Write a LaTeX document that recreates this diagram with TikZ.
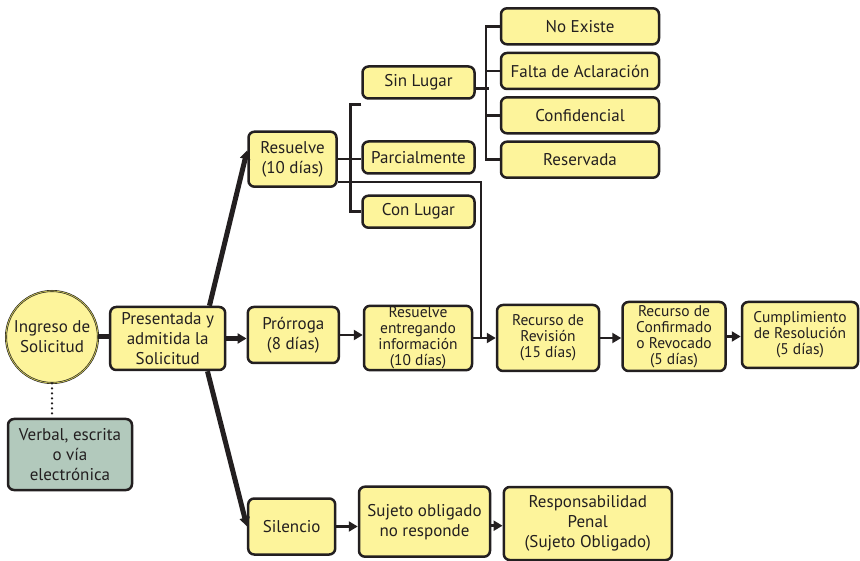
\documentclass[tikz,border=0pt]{standalone}
\usepackage{fontspec}
\setmainfont{PT Sans}
\usetikzlibrary{arrows.meta,positioning,shapes}
\definecolor{boxyellow}{RGB}{253,244,155}
\definecolor{boxgreen}{RGB}{178,201,188}
\definecolor{ink}{RGB}{35,31,32}

\begin{document}
\begin{tikzpicture}[x = 1pt, y = -1pt,
  box/.style = {draw = ink, fill = boxyellow, line width = 2.5pt, rounded corners = 6pt, align = center, inner sep = 1pt, text = ink, font = \fontsize{17}{20}\selectfont},
  tight/.style = {font = \fontsize{15.5}{16}\selectfont},
  link/.style = {draw = ink, line width = 2.5pt},
  fat/.style = {draw = ink, line width = 5pt},
  tip/.style = {-{Triangle[length=9pt, width=10pt]}}]
\useasboundingbox (0,0) rectangle (860,561);

% start of the request
\node[circle, draw = ink, double = boxyellow!55!olive, double distance = 0.8pt, line width = 0.6pt, fill = boxyellow, minimum size = 92, inner sep = 0pt, align = center, text = ink, font = \fontsize{17}{20}\selectfont] (ing) at (52,337) {Ingreso de\\Solicitud};
\node[box, fill = boxgreen, minimum width = 124, minimum height = 71] (verb) at (70,454.5) {Verbal, escrita\\o vía\\electrónica};
\node[box, minimum width = 115, minimum height = 63] (pres) at (167.7,338.5) {Presentada y\\admitida la\\Solicitud};

% main row
\node[box, minimum width = 91, minimum height = 56] (pro) at (293.3,335) {Prórroga\\(8 días)};
\node[box, tight, minimum width = 108, minimum height = 63] (rei) at (418,338) {Resuelve\\entregando\\información\\(10 días)};
\node[box, tight, minimum width = 102, minimum height = 66] (rev) at (548,338) {Recurso de\\Revisión\\(15 días)};
\node[box, tight, minimum width = 103, minimum height = 69] (rconf) at (674,336.5) {Recurso de\\Confirmado\\o Revocado\\(5 días)};
\node[box, tight, minimum width = 116, minimum height = 66] (cum) at (800,335) {Cumplimiento\\de Resolución\\(5 días)};

% upper branch
\node[box, minimum width = 88, minimum height = 55] (res) at (292.5,159.2) {Resuelve\\(10 días)};
\node[box, minimum width = 112, minimum height = 32] (sinl) at (418.5,82.5) {Sin Lugar};
\node[box, minimum width = 112, minimum height = 32] (parc) at (418.5,157.5) {Parcialmente};
\node[box, minimum width = 112, minimum height = 32] (conl) at (418.5,211.7) {Con Lugar};
\node[box, minimum width = 158, minimum height = 36] (noex) at (580,26.3) {No Existe};
\node[box, minimum width = 158, minimum height = 36] (fal) at (580,71) {Falta de Aclaración};
\node[box, minimum width = 158, minimum height = 36] (confid) at (580,115.3) {Confidencial};
\node[box, minimum width = 158, minimum height = 36] (reser) at (580,159.7) {Reservada};

% lower branch
\node[box, minimum width = 87, minimum height = 56] (sil) at (291.7,526.5) {Silencio};
\node[box, minimum width = 131, minimum height = 70] (suj) at (424.5,521.7) {Sujeto obligado\\no responde};
\node[box, minimum width = 168, minimum height = 73] (resp) at (587.8,523.5) {Responsabilidad\\Penal\\(Sujeto Obligado)};

\coordinate (join) at (481,338);

% connectors
\draw[draw = ink, line width = 2.5pt, dash pattern = on 0pt off 5pt, line cap = round] (ing.south) -- (ing.south |- verb.north);
\draw[fat] (ing.east) -- (ing.east -| pres.west);
\draw[fat, tip] (pres.east) -- (pres.east -| pro.west);
\draw[fat, tip] ([xshift=-17pt]pres.north east) -- ([yshift=9pt]res.west);
\draw[fat, tip] ([xshift=-19pt]pres.south east) -- (sil.west);
\draw[link, tip] (pro.east) -- (pro.east -| rei.west);
\draw[link, tip] (rei.east) -- (rei.east -| rev.west);
\draw[link, tip] (rev.east) -- (rev.east -| rconf.west);
\draw[link, tip] (rconf.east) -- (rconf.east -| cum.west);
\draw[link, tip] (sil.east) -- (sil.east -| suj.west);
\draw[link, tip] ([yshift=-4pt]suj.east) -- ([yshift=-4pt]suj.east -| resp.west);
\draw[link] (res.east) -- (res.east -| parc.west);
\draw[link] ([yshift=-5pt]sinl.south west) -- ++(-11,0) |- (conl.west);
\draw[link] ([yshift=6pt]res.south east) -| (join);
\draw[link] ([yshift=-6pt]sinl.east) -- ++(13,0);
\draw[link] (noex.west) -- ++(-14,0) |- (reser.west);
\draw[link] (fal.west) -- ++(-14,0);
\draw[link] (confid.west) -- ++(-14,0);
\end{tikzpicture}
\end{document}
